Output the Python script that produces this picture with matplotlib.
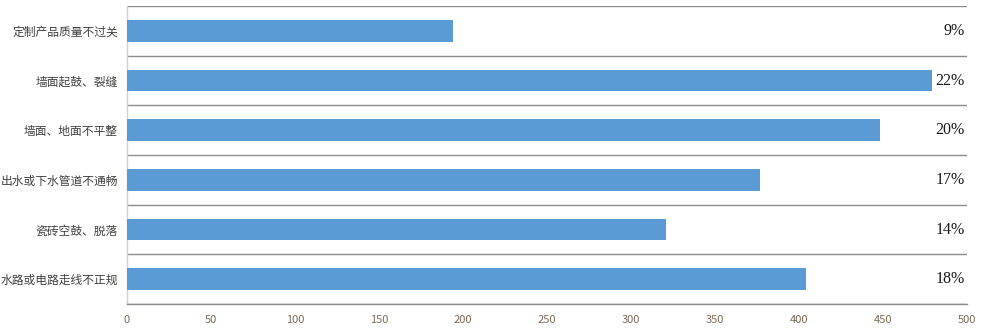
import matplotlib.pyplot as plt
import numpy as np

plt.rcParams["font.family"] = ["Noto Sans CJK SC", "DejaVu Sans"]

categories = ["定制产品质量不过关", "墙面起鼓、裂缝", "墙面、地面不平整",
              "出水或下水管道不通畅", "瓷砖空鼓、脱落", "水路或电路走线不正规"]
values = [194, 479, 448, 377, 321, 404]
percents = ["9%", "22%", "20%", "17%", "14%", "18%"]
xticks = [0, 50, 100, 150, 200, 250, 300, 350, 400, 450, 500]


def main():
    fig = plt.figure(figsize=(9.82, 3.28), dpi=100)
    ax = fig.add_axes([127 / 982, 24 / 328, 840 / 982, 298 / 328])

    y = np.arange(len(categories))
    ax.barh(y, values, height=0.44, color="#5b9bd5", zorder=3)

    for yi, p in zip(y, percents):
        ax.text(498.5, yi, p, ha="right", va="center", fontsize=11.5,
                family="Liberation Serif", color="#1a1a1a", zorder=4)

    ax.set_xlim(0, 500)
    ax.set_ylim(5.5, -0.5)
    ax.set_xticks(xticks)
    ax.set_xticklabels([str(t) for t in xticks], color="#7a6a55", fontsize=8)
    ax.set_yticks(y)
    ax.set_yticklabels(categories, fontsize=8.5, color="#404040")
    ax.set_yticks(np.arange(-0.5, len(categories)), minor=True)
    ax.grid(True, which="minor", axis="y", color="#8c8c8c", linewidth=1.0, zorder=1)
    ax.grid(False, which="major")
    ax.tick_params(which="both", length=0)
    ax.tick_params(axis="y", pad=6.5)
    ax.tick_params(axis="x", pad=8)

    for s in ["top", "right"]:
        ax.spines[s].set_visible(False)
    ax.spines["bottom"].set_color("#8c8c8c")
    ax.spines["bottom"].set_linewidth(1.0)
    ax.spines["left"].set_color("#d0d0d0")
    ax.spines["left"].set_linewidth(1.0)

    fig.savefig("out.png", dpi=100)


if __name__ == "__main__":
    main()
